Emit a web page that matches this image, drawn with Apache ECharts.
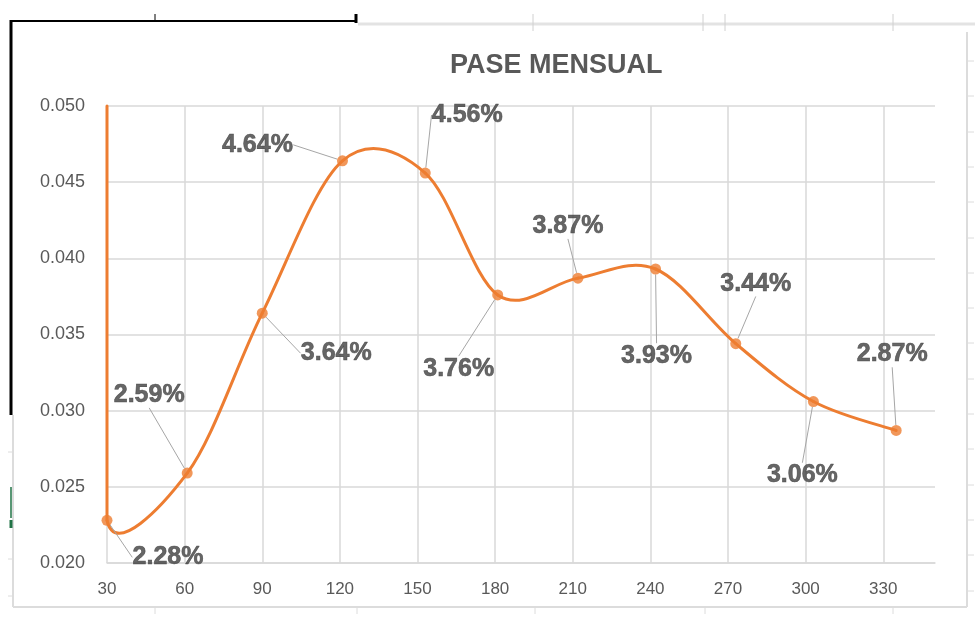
<!DOCTYPE html>
<html>
<head>
<meta charset="utf-8">
<script src="https://cdn.jsdelivr.net/npm/echarts@6/dist/echarts.min.js"></script>
<style>
  html, body { margin: 0; padding: 0; background: #ffffff; }
  #chart { width: 980px; height: 621px; }
</style>
</head>
<body>
<div id="chart"></div>
<script>
// ---- data ----
const chartTitle = 'PASE MENSUAL';
const days = [30, 61, 90, 121, 153, 181, 212, 242, 273, 303, 335];
const rates = [0.0228, 0.0259, 0.0364, 0.0464, 0.0456, 0.0376, 0.0387, 0.0393, 0.0344, 0.0306, 0.0287];
// off-scale first point of the series (line enters from the top of the plot)
const leadDay = 30;
const leadRate = 0.050;
const xTicks = [30, 60, 90, 120, 150, 180, 210, 240, 270, 300, 330];
const yTicks = ['0.020', '0.025', '0.030', '0.035', '0.040', '0.045', '0.050'];

// ---- styling / label placement (pixels) ----
const orange = '#ED7D31';
const labelOffsets = [[61, 37], [-38, -78], [74, 40], [-85, -16], [42, -58], [-39, 74],
                      [-10, -52], [1, 87], [20, -60], [-11, 74], [-4, -76]];
const gray = '#d9d9d9';
const font = 'Liberation Sans, Arial, sans-serif';

const chart = echarts.init(document.getElementById('chart'));

function curveItem(params, api) {
  const pts = [[leadDay, leadRate]].concat(days.map((d, i) => [d, rates[i]])).map(p => api.coord(p));
  const st = { stroke: orange, lineWidth: 3, fill: 'none', lineCap: 'round' };
  const children = [{
    type: 'line',
    shape: { x1: pts[0][0], y1: pts[0][1], x2: pts[1][0], y2: pts[1][1] },
    style: st
  }];
  for (let i = 1; i < pts.length - 1; i++) {
    const p0 = pts[i - 1], p1 = pts[i], p2 = pts[i + 1], p3 = pts[i + 2] || pts[i + 1];
    const t1 = i === 1 ? 0.6 / 6 : 1 / 6;
    children.push({
      type: 'bezierCurve',
      shape: {
        x1: p1[0], y1: p1[1], x2: p2[0], y2: p2[1],
        cpx1: p1[0] + (p2[0] - p0[0]) * t1, cpy1: p1[1] + (p2[1] - p0[1]) * t1,
        cpx2: p2[0] - (p3[0] - p1[0]) / 6, cpy2: p2[1] - (p3[1] - p1[1]) / 6
      },
      style: st
    });
  }
  return { type: 'group', children: children };
}

function hline(x1, y1, x2, y2, color, w) {
  return { type: 'line', silent: true, shape: { x1: x1, y1: y1, x2: x2, y2: y2 }, style: { stroke: color, lineWidth: w } };
}

const frame = [
  hline(12, 21, 357, 21, '#000000', 2),
  hline(155, 14, 155, 21, '#000000', 1),
  hline(356, 14, 356, 23, '#000000', 3),
  hline(358, 24, 975, 24, '#e3e3e3', 3),
  hline(533, 14, 533, 31, '#d0d0d0', 1),
  hline(703, 14, 703, 31, '#d0d0d0', 1),
  hline(725, 14, 725, 31, '#d0d0d0', 1),
  hline(893, 14, 893, 31, '#d0d0d0', 1),
  hline(11, 20, 11, 415, '#000000', 3),
  hline(13, 415, 13, 607, '#dcdcdc', 2),
  hline(8, 452, 12, 452, '#dcdcdc', 1),
  hline(8, 559, 12, 559, '#dcdcdc', 1),
  hline(8, 596, 12, 596, '#dcdcdc', 1),
  hline(11, 487, 11, 518, '#217346', 1.5),
  hline(11, 520, 11, 528, '#217346', 3),
  hline(13, 607, 967, 607, '#dcdcdc', 2),
  hline(155, 607, 155, 614, '#dcdcdc', 1),
  hline(357, 607, 357, 614, '#dcdcdc', 1),
  hline(535, 607, 535, 614, '#dcdcdc', 1),
  hline(705, 607, 705, 614, '#dcdcdc', 1),
  hline(893, 607, 893, 614, '#dcdcdc', 1),
  hline(967, 32, 967, 607, '#dcdcdc', 2)
];
for (let k = 0; k < 16; k++) {
  const y = Math.round(61 + k * 35.3);
  frame.push(hline(967, y, 974, y, '#dcdcdc', 1));
}

chart.setOption({
  animation: false,
  backgroundColor: '#ffffff',
  title: {
    text: chartTitle,
    left: 445,
    top: 47,
    textStyle: { fontFamily: font, fontSize: 27, fontWeight: 'bold', color: '#595959' }
  },
  grid: { left: 107, right: 45, top: 106, bottom: 58, containLabel: false },
  xAxis: {
    type: 'value',
    min: 30,
    max: 350,
    interval: 30,
    axisLine: { show: true, lineStyle: { color: gray, width: 1.5 } },
    axisTick: { show: false },
    axisLabel: {
      margin: 18,
      fontFamily: font, fontSize: 17, color: '#595959',
      showMaxLabel: false,
      formatter: v => (xTicks.indexOf(v) >= 0 ? String(v) : '')
    },
    splitLine: { show: true, showMaxLine: false, lineStyle: { color: gray, width: 1.5 } }
  },
  yAxis: {
    type: 'value',
    min: 0.020,
    max: 0.050,
    interval: 0.005,
    axisLine: { show: false },
    axisTick: { show: false },
    axisLabel: {
      margin: 22,
      fontFamily: font, fontSize: 18, color: '#595959',
      formatter: v => {
        const s = v.toFixed(3);
        return yTicks.indexOf(s) >= 0 ? s : '';
      }
    },
    splitLine: { show: true, lineStyle: { color: gray, width: 1.5 } }
  },
  graphic: frame,
  series: [
    {
      type: 'custom',
      coordinateSystem: 'cartesian2d',
      silent: true,
      clip: false,
      z: 3,
      data: [[days[0], rates[0]]],
      encode: { x: 0, y: 1 },
      renderItem: curveItem
    },
    {
      type: 'scatter',
      z: 4,
      symbol: 'circle',
      symbolSize: 11,
      itemStyle: { color: orange },
      data: days.map((d, i) => [d, rates[i]]),
      label: {
        show: true,
        position: 'inside',
        formatter: p => (p.value[1] * 100).toFixed(2) + '%',
        fontFamily: font,
        fontSize: 25,
        fontWeight: 'bold',
        color: '#404040',
        textBorderColor: '#404040',
        textBorderWidth: 0.6,
        padding: [3, 4]
      },
      labelLine: { show: true, lineStyle: { color: '#a6a6a6', width: 1 } },
      labelLayout: function (params) {
        const o = labelOffsets[params.dataIndex];
        return { dx: o[0], dy: o[1] };
      }
    }
  ]
});
</script>
</body>
</html>
